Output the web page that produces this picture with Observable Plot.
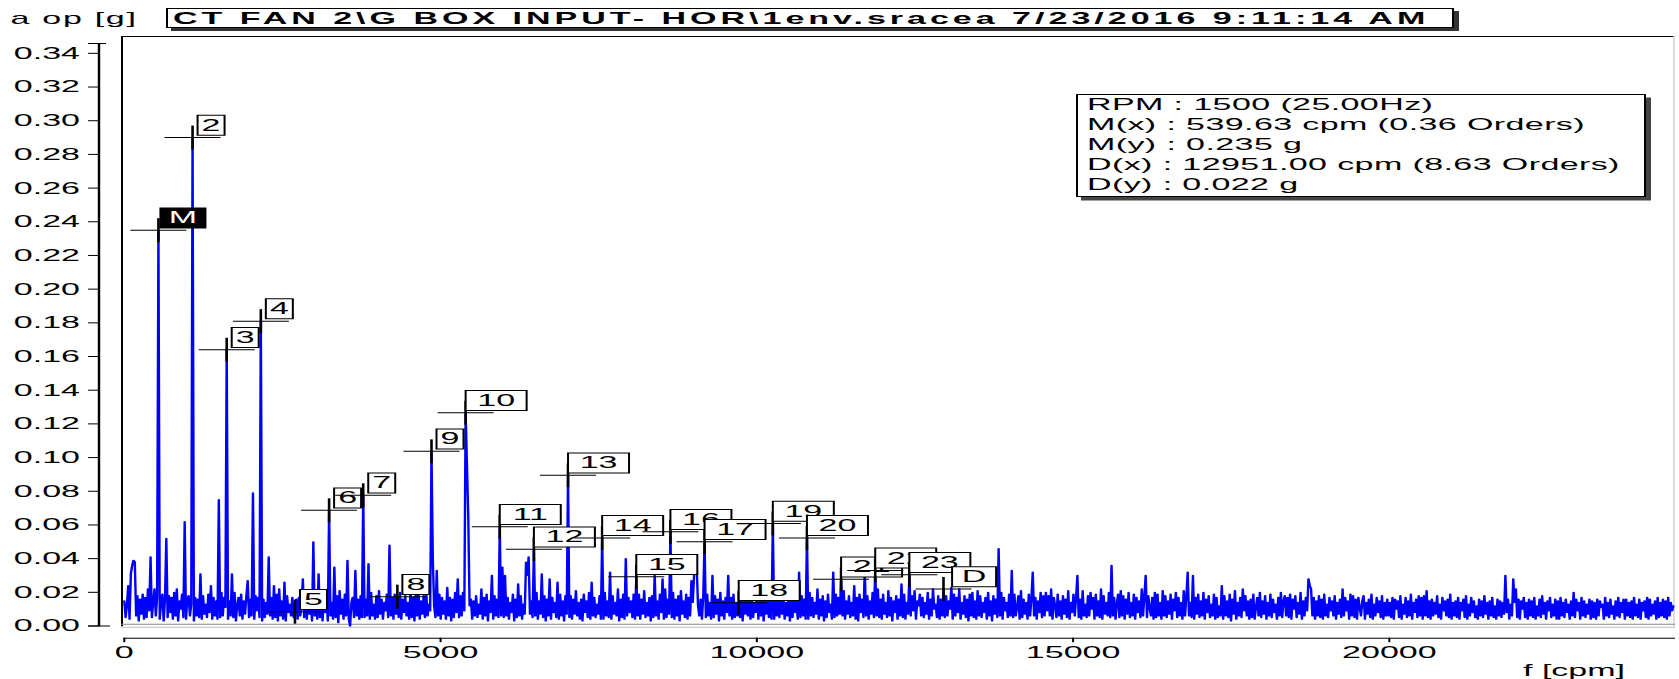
<!DOCTYPE html>
<html>
<head>
<meta charset="utf-8">
<title>a op [g] — CT FAN 2\G BOX INPUT- HOR</title>
<script src="https://cdn.jsdelivr.net/npm/d3@7"></script>
<script src="https://cdn.jsdelivr.net/npm/@observablehq/plot@0.6"></script>
<style>
  html, body { margin: 0; padding: 0; background: #fff; overflow: hidden; }
  /* the analyser screen is laid out at half width and stretched 2:1 horizontally */
  #sheet {
    position: relative; width: 839.5px; height: 679px;
    transform: scale(2, 1); transform-origin: 0 0;
    font-family: "Liberation Sans", Arial, Helvetica, sans-serif; color: #000;
  }
  #header { position: relative; height: 30px; }
  #unit {
    position: absolute; left: 5.3px; top: 9px;
    font-size: 17px; line-height: 20px; letter-spacing: 0.85px; white-space: nowrap;
  }
  #title {
    position: absolute; left: 83px; top: 7.5px; width: 639px; height: 18.5px;
    padding-left: 2.5px; border: 1px solid #000; background: #fff;
    box-shadow: 2.5px 3px 0 #333;
    font-weight: bold; font-size: 17px; line-height: 19px; letter-spacing: 2px; white-space: nowrap;
  }
  #info {
    position: absolute; left: 537.5px; top: 94px; width: 278px; padding: 0 0 1px 5px;
    border: 1px solid #000; background: #fff; box-shadow: 2.5px 3.5px 0 #444;
    font-size: 17px; line-height: 20px; letter-spacing: 0.2px; white-space: nowrap;
  }
  #sheet svg { display: block; }
</style>
</head>
<body>
<div id="sheet">
  <div id="header"><div id="unit"></div><div id="title"></div></div>
</div>
<script>
// ---- measurement data -------------------------------------------------------
const yUnitLabel = "a op [g]";
const xUnitLabel = "f [cpm]";
const titleText = "CT FAN 2\\G BOX INPUT- HOR\\1env.sracea 7/23/2016 9:11:14 AM";
const infoLines = [
  "RPM : 1500 (25.00Hz)",
  "M(x) : 539.63 cpm (0.36 Orders)",
  "M(y) : 0.235 g",
  "D(x) : 12951.00 cpm (8.63 Orders)",
  "D(y) : 0.022 g"
];

const F_MAX = 24500;      // frequency span shown, cpm
const A_MAX = 0.35;       // amplitude span shown, g
const M_X = 539.63;       // main cursor frequency, cpm
const D_X = 12951.00;     // delta cursor frequency, cpm
const DF = M_X / 26;      // spectral line spacing, cpm (26 lines per order)

// envelope spectrum amplitude per spectral line, in mg; one row per order of M(x)
const amplitudeMg = [
  15, 5, 12, 24, 4, 31, 36, 39, 38, 6, 18, 3, 16, 7, 19, 4, 17, 5, 22, 9, 41, 5, 14, 22, 6, 17,
  235, 4, 14, 19, 3, 16, 52, 5, 18, 8, 17, 4, 20, 6, 22, 3, 15, 10, 19, 5, 62, 4, 16, 18, 6, 13,
  290, 3, 17, 6, 16, 5, 31, 4, 18, 7, 13, 5, 19, 8, 24, 4, 17, 6, 15, 4, 75, 5, 20, 6, 17, 11,
  164, 4, 15, 6, 31, 5, 20, 3, 12, 17, 6, 19, 4, 15, 7, 18, 27, 5, 16, 6, 79, 4, 18, 9, 17, 5,
  181, 3, 16, 5, 14, 7, 41, 6, 17, 4, 24, 5, 19, 3, 22, 6, 15, 4, 26, 3, 18, 8, 13, 6, 17, 5,
  8.5, 16, 4, 17, 6, 12, 28, 5, 20, 4, 18, 7, 15, 3, 50, 6, 19, 4, 31, 5, 17, 3, 16, 8, 19, 3,
  68.7, 6, 14, 4, 35, 5, 18, 2, 21, 7, 16, 4, 19, 6, 39, 4, 0, 14, 17, 5, 33, 6, 16, 4, 18, 5,
  77.6, 5, 16, 6, 37, 4, 20, 6, 13, 4, 18, 5, 21, 7, 16, 4, 14, 9, 19, 5, 48, 6, 17, 4, 19, 7,
  17.4, 5, 20, 4, 16, 8, 18, 6, 14, 4, 21, 5, 17, 3, 19, 6, 22, 4, 15, 7, 18, 5, 20, 6, 13, 9,
  103.7, 40, 12, 5, 33, 6, 19, 4, 17, 7, 15, 4, 23, 6, 17, 3, 16, 5, 20, 8, 28, 5, 18, 6, 20, 9,
  126.6, 96, 65, 12, 16, 4, 15, 6, 18, 5, 13, 7, 22, 4, 17, 6, 19, 3, 15, 8, 30, 4, 18, 6, 16, 5,
  58.9, 6, 35, 5, 30, 6, 17, 4, 14, 8, 19, 3, 16, 5, 25, 6, 18, 4, 13, 7, 38, 30, 41, 7, 15, 5,
  45.6, 6, 20, 4, 15, 7, 31, 5, 18, 3, 16, 6, 28, 4, 17, 8, 14, 5, 26, 4, 19, 6, 15, 3, 18, 7,
  89.5, 5, 18, 4, 16, 7, 21, 6, 14, 4, 16, 3, 19, 8, 15, 5, 20, 4, 26, 6, 17, 5, 13, 7, 18, 4,
  52.3, 4, 20, 6, 15, 5, 32, 4, 18, 7, 14, 6, 22, 3, 16, 5, 19, 4, 40, 6, 17, 8, 15, 5, 19, 4,
  29.2, 6, 19, 4, 16, 7, 21, 5, 14, 6, 17, 3, 18, 5, 30, 6, 15, 4, 19, 8, 28, 4, 22, 5, 16, 7,
  55.9, 5, 20, 4, 16, 6, 18, 3, 21, 7, 15, 5, 19, 4, 17, 6, 27, 14, 30, 33, 36, 12, 6, 16, 4, 18,
  50, 5, 19, 6, 14, 4, 30, 5, 18, 7, 16, 3, 20, 6, 15, 4, 17, 8, 30, 6, 17, 4, 19, 5, 14, 6,
  13.8, 5, 19, 3, 16, 7, 21, 6, 15, 4, 18, 5, 14, 8, 22, 4, 17, 6, 19, 3, 15, 7, 20, 5, 17, 4,
  60.9, 4, 18, 6, 15, 5, 21, 7, 17, 4, 14, 6, 19, 3, 16, 5, 18, 8, 15, 4, 32, 5, 18, 6, 16, 4,
  52.3, 4, 20, 6, 17, 5, 14, 7, 22, 4, 16, 6, 18, 3, 15, 5, 19, 8, 13, 4, 32, 5, 19, 6, 17, 7,
  27.7, 6, 21, 4, 15, 7, 18, 5, 14, 6, 24, 4, 17, 3, 19, 8, 16, 5, 33, 6, 18, 4, 15, 7, 20, 5,
  33, 6, 22, 5, 16, 4, 19, 7, 14, 5, 21, 6, 17, 3, 15, 8, 18, 4, 16, 6, 25, 5, 19, 4, 14, 7,
  30.4, 6, 18, 9, 21, 4, 15, 12, 19, 6, 17, 5, 14, 7, 20, 4, 16, 6, 22, 10, 13, 5, 18, 4, 16, 6,
  22, 5, 18, 6, 15, 10, 23, 4, 19, 6, 17, 8, 22, 4, 14, 7, 18, 5, 16, 3, 19, 6, 20, 5, 15, 4,
  21, 6, 18, 5, 14, 8, 17, 4, 20, 6, 15, 3, 18, 7, 16, 5, 46, 6, 20, 4, 17, 9, 14, 5, 19, 6,
  33, 5, 19, 6, 11, 18, 4, 21, 5, 16, 7, 14, 4, 19, 6, 17, 32, 6, 17, 4, 15, 8, 20, 5, 18, 6,
  20, 9, 18, 6, 22, 4, 17, 12, 5, 19, 6, 15, 4, 18, 7, 16, 5, 21, 4, 14, 8, 19, 6, 17, 30, 5,
  16, 4, 21, 6, 13, 5, 18, 6, 20, 10, 17, 4, 19, 6, 15, 5, 22, 4, 18, 7, 14, 6, 20, 5, 36, 6,
  17, 4, 13, 19, 5, 21, 6, 18, 4, 16, 7, 20, 5, 14, 6, 19, 4, 17, 8, 15, 5, 22, 6, 18, 30, 5,
  18, 11, 6, 17, 4, 20, 5, 19, 6, 14, 4, 21, 6, 18, 5, 15, 7, 19, 4, 16, 9, 20, 5, 17, 6, 14,
  4, 21, 6, 18, 32, 6, 14, 5, 30, 4, 17, 7, 19, 5, 15, 6, 20, 4, 16, 8, 18, 5, 13, 6, 19, 4,
  17, 5, 12, 6, 24, 4, 18, 6, 15, 5, 19, 3, 16, 7, 21, 4, 14, 6, 17, 5, 22, 9, 18, 6, 15, 4,
  16, 5, 19, 4, 11, 17, 6, 20, 5, 15, 7, 18, 4, 14, 6, 19, 5, 16, 8, 13, 4, 17, 6, 20, 5, 15,
  18, 6, 17, 5, 19, 4, 16, 10, 18, 5, 14, 7, 20, 4, 15, 6, 17, 9, 28, 24, 22, 6, 17, 4, 15, 6,
  18, 5, 16, 4, 19, 6, 13, 5, 17, 9, 15, 6, 18, 4, 14, 7, 16, 5, 22, 6, 17, 9, 15, 4, 19, 6,
  18, 5, 16, 4, 17, 11, 6, 15, 18, 4, 14, 7, 16, 5, 19, 4, 13, 6, 17, 8, 15, 5, 18, 4, 14, 6,
  16, 6, 14, 5, 17, 4, 16, 10, 15, 5, 18, 4, 13, 7, 17, 5, 15, 6, 19, 4, 14, 8, 16, 5, 18, 6,
  17, 4, 18, 6, 21, 5, 15, 4, 16, 6, 14, 7, 18, 5, 13, 4, 17, 9, 15, 6, 16, 5, 19, 4, 14, 6,
  15, 5, 17, 4, 14, 9, 16, 5, 18, 4, 13, 6, 17, 8, 15, 5, 12, 4, 16, 6, 15, 5, 18, 7, 14, 4,
  15, 6, 17, 5, 12, 4, 16, 6, 15, 5, 14, 7, 30, 8, 16, 4, 13, 6, 28, 14, 22, 5, 16, 4, 15, 10,
  17, 5, 14, 4, 16, 6, 15, 5, 17, 4, 12, 6, 16, 5, 18, 7, 14, 4, 15, 9, 17, 5, 13, 6, 16, 4,
  15, 4, 17, 6, 14, 5, 16, 8, 13, 4, 15, 6, 20, 5, 16, 9, 14, 4, 17, 6, 15, 5, 13, 7, 16, 4,
  15, 5, 14, 4, 16, 6, 15, 11, 13, 4, 17, 6, 14, 5, 16, 7, 12, 4, 15, 6, 17, 5, 14, 8, 16, 4,
  16, 6, 14, 5, 15, 4, 17, 6, 13, 5, 16, 4, 14, 9, 15, 5, 17, 4, 16, 6, 13, 7, 15, 4, 17, 5,
  14, 6, 16, 5, 15, 4, 17, 6, 14, 9, 12
];

// harmonic cursor set: M is the main cursor, 2..23 its orders, D the delta cursor
const cursorLabels = ["M", "2", "3", "4", "5", "6", "7", "8", "9", "10", "11", "12",
  "13", "14", "15", "16", "17", "18", "19", "20", "21", "22", "23", "D"];
const cursorOrders = [1, 2, 3, 4, 5, 6, 7, 8, 9, 10, 11, 12,
  13, 14, 15, 16, 17, 18, 19, 20, 21, 22, 23, 24];

const yTicks = [0, 0.02, 0.04, 0.06, 0.08, 0.10, 0.12, 0.14, 0.16, 0.18,
  0.20, 0.22, 0.24, 0.26, 0.28, 0.30, 0.32, 0.34];
const xTicks = [0, 5000, 10000, 15000, 20000];

// ---- derived tables ---------------------------------------------------------
const spectrum = amplitudeMg.map((mg, i) => ({f: i * DF, a: mg / 1000}));
const cursors = cursorLabels.map((label, k) => {
  const f = label === "D" ? D_X : cursorOrders[k] * M_X;
  return {label, f, v: spectrum[Math.round(f / DF)].a};
});

// ---- header ------------------------------------------------------------------
document.getElementById("unit").textContent = yUnitLabel;
document.getElementById("title").textContent = titleText;

// ---- cursor glyphs ----------------------------------------------------------
const crossBar = {draw(c) { c.moveTo(-14, 0); c.lineTo(14, 0); }};
const crossTick = {draw(c) { c.moveTo(0, -12); c.lineTo(0, 12); }};
const boxShape = (x0, w) => ({draw(c) { c.rect(x0, -22.3, w, 20); }});
function boxGeometry(label) {
  if (label === "M") return {x0: 1, w: 22.5};
  if (label === "D") return {x0: 4.3, w: 22};
  if (label.length === 1) return {x0: 2.5, w: 13.5};
  return {x0: 0, w: 30.5};
}

const cursorMarks = cursors.flatMap((c) => {
  const {x0, w} = boxGeometry(c.label);
  const solid = c.label === "M";
  return [
    Plot.dot([c], {x: "f", y: "v", symbol: crossBar, fill: "none", stroke: "#000", strokeWidth: 1}),
    Plot.dot([c], {x: "f", y: "v", symbol: crossTick, fill: "none", stroke: "#000", strokeWidth: 1.3}),
    Plot.dot([c], {x: "f", y: "v", symbol: boxShape(x0, w), fill: solid ? "#000" : "#fff", stroke: "#000", strokeWidth: 1}),
    Plot.text([c], {x: "f", y: "v", text: "label", dx: x0 + w / 2, dy: -12.3,
      textAnchor: "middle", lineAnchor: "middle", fontSize: 17, fill: solid ? "#fff" : "#000"})
  ];
});

// ---- chart ------------------------------------------------------------------
const chart = Plot.plot({
  width: 839.5,
  height: 649,
  marginLeft: 49,
  marginRight: 3,
  marginTop: 6,
  marginBottom: 41.3,
  x: {domain: [0, F_MAX], range: [61.65, 836.5]},
  y: {domain: [0, A_MAX], range: [595.5, 6]},
  style: {
    fontFamily: '"Liberation Sans", Arial, Helvetica, sans-serif',
    fontSize: "17px",
    color: "#000",
    background: "transparent",
    overflow: "visible"
  },
  marks: [
    // amplitude axis with its own spine, end cap and zero stub
    Plot.frame({anchor: "left", insetTop: 7, insetBottom: 12.2, stroke: "#000", strokeWidth: 1.2}),
    Plot.frame({anchor: "top", insetTop: 7, insetLeft: -5, insetRight: 784.5, stroke: "#000"}),
    Plot.frame({anchor: "bottom", insetBottom: 12.2, insetLeft: -5, insetRight: 782.5, stroke: "#000"}),
    Plot.axisY({ticks: yTicks, tickSize: 5, tickPadding: 4.5, tickFormat: d3.format(".2f"),
      fontSize: 17, label: null}),
    // plot window border
    Plot.frame({anchor: "left", insetLeft: 11.5, insetBottom: 12.5, stroke: "#000", strokeWidth: 1}),
    Plot.frame({anchor: "top", insetLeft: 11.5, stroke: "#000", strokeWidth: 1}),
    Plot.frame({anchor: "right", insetBottom: 12.2, stroke: "#d4d4d4", strokeWidth: 0.8}),
    Plot.frame({anchor: "bottom", insetLeft: 11.5, insetBottom: 14, stroke: "#8a8a8a", strokeWidth: 1}),
    Plot.frame({anchor: "bottom", insetLeft: 11.5, insetBottom: 11, stroke: "#bdbdbd", strokeWidth: 1}),
    // frequency axis
    Plot.frame({anchor: "bottom", insetLeft: 12.65, stroke: "#000", strokeWidth: 1}),
    Plot.axisX({ticks: xTicks, tickSize: 4.5, tickPadding: 3, tickFormat: d3.format("d"),
      fontSize: 17, label: null}),
    Plot.text([xUnitLabel], {frameAnchor: "bottom-right", dx: -50, dy: 32.3,
      textAnchor: "middle", lineAnchor: "middle", fontSize: 17}),
    // spectrum trace
    Plot.line(spectrum, {x: "f", y: "a", stroke: "#0000ff", strokeWidth: 1.2}),
    // harmonic cursors
    ...cursorMarks
  ]
});

const sheet = document.getElementById("sheet");
sheet.appendChild(chart);

// readout box
const info = document.createElement("div");
info.id = "info";
info.innerHTML = infoLines.map((s) => `<div>${s}</div>`).join("");
sheet.appendChild(info);
</script>
</body>
</html>
